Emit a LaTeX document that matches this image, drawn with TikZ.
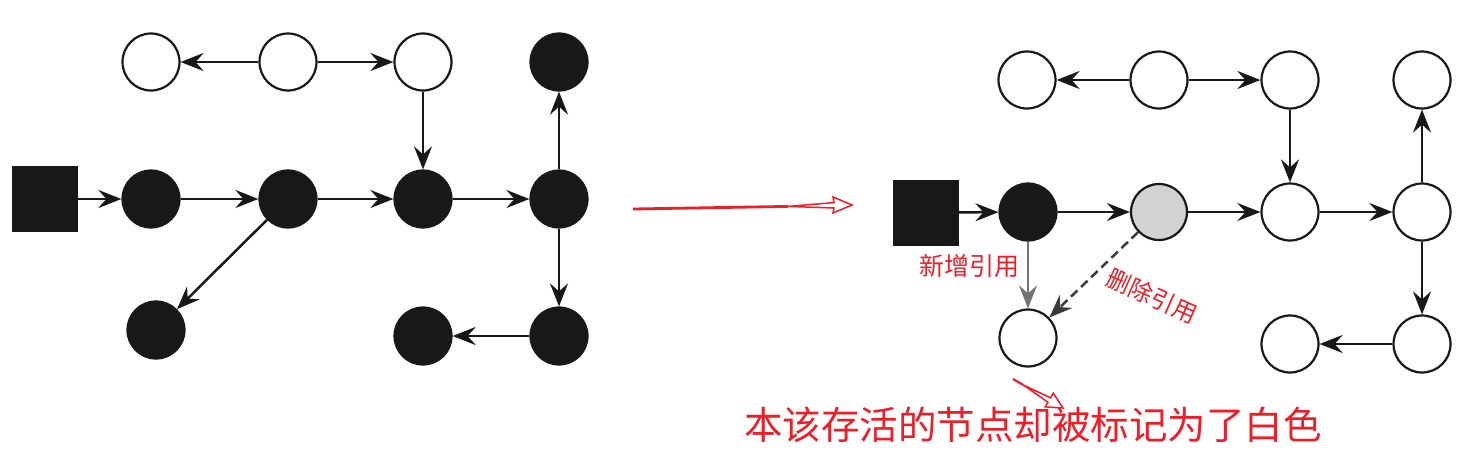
\documentclass[tikz,border=0pt]{standalone}
\usepackage{fontspec}
\newfontfamily\cjk{Noto Sans CJK SC}
\usetikzlibrary{arrows.meta}
\definecolor{annred}{RGB}{236,30,40}
\definecolor{nodegray}{RGB}{210,210,210}
\definecolor{newgray}{RGB}{115,115,115}
\definecolor{ink}{RGB}{24,24,24}
\tikzset{
  bigtip/.tip={Stealth[length=23pt,width=18pt,inset=8pt]},
}
\begin{document}
\begin{tikzpicture}[x=1pt,y=-1pt,
  wn/.style={circle,draw=ink,line width=2.2pt,fill=white,minimum size=57pt,inner sep=0pt},
  bn/.style={circle,draw=ink,line width=2.2pt,fill=ink,minimum size=57pt,inner sep=0pt},
  gn/.style={circle,draw=ink,line width=2.2pt,fill=nodegray,minimum size=56pt,inner sep=0pt},
  sq/.style={rectangle,draw=ink,fill=ink,minimum size=65pt,inner sep=0pt},
  conn/.style={draw=ink,line width=2.5pt,arrows={-bigtip}},
  newconn/.style={draw=newgray,line width=2.5pt,arrows={-bigtip}},
  delconn/.style={draw=ink!85,line width=2.5pt,dash pattern=on 9pt off 5pt,arrows={-bigtip}},
  redtxt/.style={text=annred,inner sep=0pt},
  redline/.style={draw=annred,line width=2.8pt},
  redhead/.style={draw=annred,line width=1.5pt,fill=white,line join=miter}
]
\useasboundingbox (0,0) rectangle (1475,459);
\fill[white] (0,0) rectangle (1475,459);

% ---------- left graph ----------
\node[wn] (LT1) at (151,62) {};
\node[wn] (LT2) at (288,62) {};
\node[wn] (LT3) at (423,62) {};
\node[bn] (LT4) at (559,62) {};
\node[sq] (LS) at (45,199) {};
\node[bn] (LM1) at (151,199) {};
\node[bn] (LM2) at (288,199) {};
\node[bn] (LM3) at (423,199) {};
\node[bn] (LM4) at (559,199) {};
\node[bn] (LB1) at (156,330) {};
\node[bn] (LB2) at (423,336) {};
\node[bn] (LB3) at (559,336) {};

\draw[conn] (LT2) -- (LT1);
\draw[conn] (LT2) -- (LT3);
\draw[conn] (LT3) -- (LM3);
\draw[conn] (LS) -- (LM1);
\draw[conn] (LM1) -- (LM2);
\draw[conn] (LM2) -- (LM3);
\draw[conn] (LM3) -- (LM4);
\draw[conn] (LM4) -- (LT4);
\draw[conn] (LM4) -- (LB3);
\draw[conn] (LB3) -- (LB2);
\draw[conn] (LM2) -- (LB1);

% ---------- big red arrow ----------
\coordinate (A1s) at (633,209);
\coordinate (A1m) at (788,206.4);
\draw[redline] (A1s) -- (A1m);
\draw[redhead] (A1m) -- (834,202.6) -- (833,197) -- (852,205) -- (833,213) -- (834,208) -- cycle;

% ---------- right graph ----------
\node[wn] (RT1) at (1027,80) {};
\node[wn] (RT2) at (1159,80) {};
\node[wn] (RT3) at (1290,80) {};
\node[wn] (RT4) at (1422,80) {};
\node[sq] (RS) at (925.5,212.5) {};
\node[bn] (RM1) at (1028,212) {};
\node[gn] (RM2) at (1159,212) {};
\node[wn] (RM3) at (1290,212) {};
\node[wn] (RM4) at (1422,212) {};
\node[wn] (RB1) at (1028,338) {};
\node[wn] (RB2) at (1290,344) {};
\node[wn] (RB3) at (1422,344) {};

\draw[conn] (RT2) -- (RT1);
\draw[conn] (RT2) -- (RT3);
\draw[conn] (RT3) -- (RM3);
\draw[conn] (RS) -- (RM1);
\draw[conn] (RM1) -- (RM2);
\draw[conn] (RM2) -- (RM3);
\draw[conn] (RM3) -- (RM4);
\draw[conn] (RM4) -- (RT4);
\draw[conn] (RM4) -- (RB3);
\draw[conn] (RB3) -- (RB2);
\draw[newconn] (RM1) -- (RB1);
\draw[delconn] (RM2) -- (RB1);

% ---------- labels ----------
\node[redtxt,font=\cjk\fontsize{25}{25}\selectfont] (Ladd) at (969,266) {新增引用};
\node[redtxt,font=\cjk\fontsize{24}{24}\selectfont,rotate=-24] (Ldel) at (1152,296) {删除引用};
\node[redtxt,font=\cjk\fontsize{38.5}{38.5}\selectfont,anchor=west] (Lmain) at (744,425) {本该存活的节点却被标记为了白色};

% ---------- small red arrow ----------
\coordinate (A2s) at (1013,379);
\coordinate (A2m) at (1023,384.8);
\draw[redline,line width=2.2pt] (A2s) -- (A2m);
\draw[redhead] (A2m) -- (1047.9,402.2) -- (1045.2,406.9) -- (1063,408) -- (1053.2,393.1) -- (1050.5,397.8) -- cycle;
\end{tikzpicture}
\end{document}
